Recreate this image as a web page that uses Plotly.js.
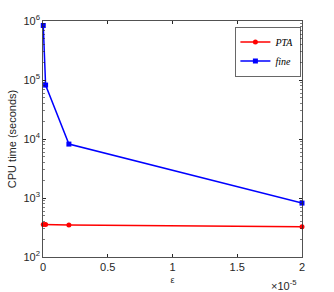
<!DOCTYPE html>
<html>
<head>
<meta charset="utf-8">
<script src="https://cdn.plot.ly/plotly-3.0.1.min.js"></script>
<style>html,body{margin:0;padding:0;background:#fff;}#chart{width:334px;height:292px;}</style>
</head>
<body>
<div id="chart"></div>
<script>
const epsilon = [2e-8, 2e-7, 2e-6, 2e-5];
const ptaTime = [355, 355, 350, 325];
const fineTime = [840000, 82000, 8200, 820];
const xTickVals = [0, 0.5e-5, 1e-5, 1.5e-5, 2e-5];
const xTickText = ['0', '0.5', '1', '1.5', '2'];
const yTickVals = [1e2, 1e3, 1e4, 1e5, 1e6];
const yTickText = ['10<sup>2</sup>', '10<sup>3</sup>', '10<sup>4</sup>', '10<sup>5</sup>', '10<sup>6</sup>'];
const minorDigits = [2, 3, 4, 5, 6, 7, 8, 9];

const yMinor = [];
for (let d = 0; d < yTickVals.length - 1; d++) {
  for (const m of minorDigits) yMinor.push(yTickVals[d] * m);
}

const font = {family: 'Liberation Sans, Arial, sans-serif', size: 11, color: '#262626'};

const traces = [
  {x: epsilon, y: ptaTime, name: '<i>PTA</i>', mode: 'lines+markers', cliponaxis: false,
   line: {color: '#ff0000', width: 1.5}, marker: {symbol: 'circle', size: 5, color: '#ff0000'}},
  {x: epsilon, y: fineTime, name: '<i>fine</i>', mode: 'lines+markers', cliponaxis: false,
   line: {color: '#0000ff', width: 1.5}, marker: {symbol: 'square', size: 5, color: '#0000ff'}}
];

const layout = {
  width: 334, height: 292,
  margin: {l: 43, r: 32, t: 21, b: 35},
  paper_bgcolor: '#fff', plot_bgcolor: '#fff',
  font: font,
  showlegend: true,
  legend: {x: 0.995, y: 0.975, xanchor: 'right', yanchor: 'top', bgcolor: '#fff',
    bordercolor: '#262626', borderwidth: 0.7,
    font: {family: 'Liberation Serif, Times New Roman, serif', size: 10, color: '#000'},
    tracegroupgap: 0, itemwidth: 30},
  xaxis: {range: [0, 2e-5], tickvals: xTickVals, ticktext: xTickText,
    ticks: 'inside', ticklen: 3, tickcolor: '#262626', showline: true, linecolor: '#262626', linewidth: 0.8,
    mirror: 'ticks', showgrid: false, zeroline: false,
    title: {text: 'ε', font: {size: 9, color: '#262626'}, standoff: 4}, tickfont: {size: 11}},
  yaxis: {type: 'log', range: [2, 6], tickvals: yTickVals, ticktext: yTickText,
    ticks: 'inside', ticklen: 3, tickcolor: '#262626', showline: true, linecolor: '#262626', linewidth: 0.8,
    mirror: 'ticks', showgrid: false, zeroline: false,
    minor: {tickmode: 'array', tickvals: yMinor, ticks: 'inside', ticklen: 2, tickcolor: '#262626', tickwidth: 0.6, showgrid: false},
    title: {text: 'CPU time (seconds)', font: {size: 11, color: '#262626'}, standoff: 4}, tickfont: {size: 11}},
  annotations: [
    {xref: 'paper', yref: 'paper', x: 0.93, y: -0.118, xanchor: 'center', yanchor: 'middle',
     text: '×10<sup>-5</sup>', showarrow: false, font: {size: 11, color: '#262626'}}
  ]
};

Plotly.newPlot('chart', traces, layout, {displayModeBar: false, staticPlot: true});
</script>
</body>
</html>
